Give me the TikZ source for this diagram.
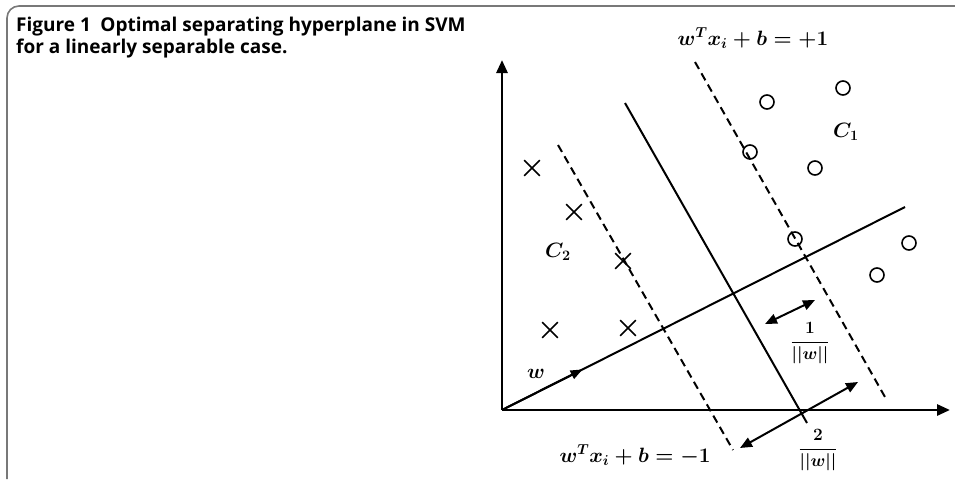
\documentclass[tikz,border=0pt]{standalone}
\usepackage{fontspec}
\usepackage{amsmath}
\usetikzlibrary{arrows.meta, shapes.misc, calc}
\newfontfamily\capfont{Open Sans}
\definecolor{framegray}{RGB}{120,120,120}

\begin{document}
\begin{tikzpicture}[
  x=1pt, y=-1pt,
  axis/.style={line width=2.8pt, -{Triangle[length=13pt, width=11pt]}},
  plane/.style={line width=2pt},
  margin/.style={line width=2pt, dash pattern=on 8pt off 5pt},
  gap/.style={line width=2pt, {Triangle[length=12pt, width=10pt]}-{Triangle[length=12pt, width=10pt]}},
  posclass/.style={circle, draw, line width=1.6pt, minimum size=14pt, inner sep=0pt},
  negclass/.style={cross out, draw, line width=1.6pt, minimum size=14pt, inner sep=0pt},
  captext/.style={anchor=base west, inner sep=0pt, font=\capfont\bfseries\fontsize{19}{22}\selectfont},
  eqlabel/.style={font=\fontsize{22}{26}\selectfont\boldmath, inner sep=0pt},
  classlabel/.style={font=\fontsize{21}{24}\selectfont\boldmath, inner sep=0pt},
  fraclabel/.style={font=\fontsize{16}{20}\selectfont\boldmath, inner sep=0pt},
]
\useasboundingbox (0,0) rectangle (955,479);

% Frame and caption
\draw[framegray, line width=1.6pt, rounded corners=12pt] (955,6) -- (7,6) -- (7,479);
\node[captext] (cap1) at (16,31) {Figure 1\hspace{0.5em}Optimal separating hyperplane in SVM};
\node[captext] (cap2) at (16,53) {for a linearly separable case.};

% Axes
\coordinate (origin) at (502,410);
\coordinate (ytop) at (502,60);
\coordinate (xright) at (950,410);
\draw[axis] (origin) -- (ytop);
\draw[axis] (origin) -- (xright);

% Normal vector w
\coordinate (wend) at (905,207);
\draw[plane] (origin) -- (wend);
\draw[plane, -{Triangle[length=12pt, width=9pt]}] (origin) -- ($(origin)!0.2!(wend)$);
\node[classlabel, anchor=base west] (wlabel) at (527,378) {$w$};

% Hyperplane and margins
\coordinate (hp top) at (625,103);
\coordinate (hp bot) at (807,423);
\coordinate (up top) at (695,62);
\coordinate (up bot) at (885,397);
\coordinate (lo top) at (558,145);
\coordinate (lo bot) at (733,450);
\draw[plane] (hp top) -- (hp bot);
\draw[margin] (up top) -- (up bot);
\draw[margin] (lo top) -- (lo bot);

% Class C1
\node[posclass] (p1) at (767,102) {};
\node[posclass] (p2) at (843,88) {};
\node[posclass] (p3) at (750,152) {};
\node[posclass] (p4) at (815,168) {};
\node[posclass] (p5) at (795,239) {};
\node[posclass] (p6) at (909,243) {};
\node[posclass] (p7) at (877,275) {};
\node[classlabel, anchor=base west] (c1) at (833,137) {$C_1$};

% Class C2
\node[negclass] (n1) at (532,168) {};
\node[negclass] (n2) at (574,212) {};
\node[negclass] (n3) at (623,261) {};
\node[negclass] (n4) at (550,330) {};
\node[negclass] (n5) at (628,328) {};
\node[classlabel, anchor=base west] (c2) at (545,257) {$C_2$};

% Margin widths
\coordinate (half a) at (765,324);
\coordinate (half b) at (815,300);
\coordinate (full a) at (740,448);
\coordinate (full b) at (858,382);
\draw[gap] (half a) -- (half b);
\draw[gap] (full a) -- (full b);
\node[fraclabel] (half) at (810,343) {$\dfrac{1}{||w||}$};
\node[fraclabel] (full) at (818,450) {$\dfrac{2}{||w||}$};

% Margin equations
\node[eqlabel, anchor=base] (eqplus) at (753,45) {$w^Tx_i+b=+1$};
\node[eqlabel, anchor=base] (eqminus) at (635,462) {$w^Tx_i+b=-1$};

\end{tikzpicture}
\end{document}
